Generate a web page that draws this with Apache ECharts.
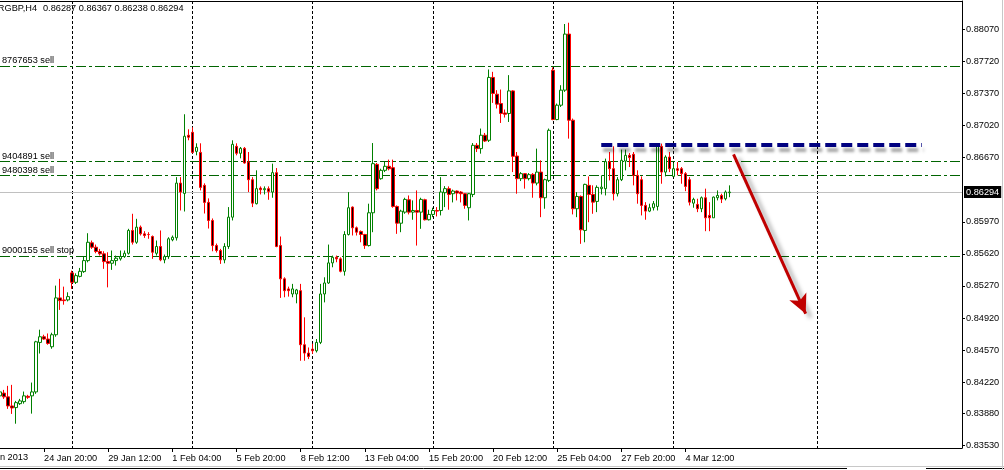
<!DOCTYPE html>
<html><head><meta charset="utf-8">
<script src="https://cdn.jsdelivr.net/npm/echarts@6/dist/echarts.min.js"></script>
<style>html,body{margin:0;padding:0;background:#fff;}#c{width:1004px;height:470px;}</style>
</head><body><div id="c"></div>
<script>
// ---- data (EURGBP, H4) ----
const firstBarUTC = Date.UTC(2013, 0, 23, 0, 0); // 23 Jan 2013 00:00
const histBars = 183;     // bars with prices
const totalBars = 241;    // incl. empty future slots (chart shift)
const open = [.84070,.84100,.84059,.83960,.83942,.83985,.84007,.84065,.84070,.84113,.84653,.84715,.84690,.84606,.84737,.85139,.85117,.85117,.85412,.85309,.85374,.85426,.85546,.85740,.85692,.85645,.85620,.85535,.85517,.85546,.85565,.85590,.85626,.85875,.85746,.85911,.85838,.85831,.85809,.85626,.85700,.85554,.85590,.85773,.85795,.86392,.86279,.86914,.86946,.86738,.86727,.86367,.86181,.85984,.85710,.85656,.85554,.85700,.86020,.86793,.86717,.86771,.86622,.86429,.86167,.86337,.86320,.86331,.86294,.86506,.85710,.85347,.85237,.85182,.85182,.85218,.84628,.84537,.84580,.84562,.84653,.85182,.85302,.85521,.85582,.85565,.85429,.85831,.86130,.85904,.85864,.85831,.85710,.86068,.86596,.86440,.86531,.86575,.86560,.86137,.85954,.86075,.86210,.86075,.86093,.86075,.86210,.85992,.86050,.86093,.86093,.86287,.86331,.86276,.86305,.86294,.86276,.86123,.86268,.86804,.86768,.86914,.86859,.87545,.87362,.87260,.87157,.87151,.87398,.86687,.86440,.86495,.86440,.86487,.86392,.86512,.86232,.86421,.87624,.87085,.87242,.87406,.88018,.87078,.86112,.86246,.85875,.86367,.86268,.86192,.86331,.86331,.86626,.86549,.86276,.86429,.86632,.86695,.86706,.86476,.86429,.86148,.86086,.86123,.86137,.86793,.86512,.86676,.86465,.86549,.86549,.86495,.86429,.86173,.86159,.86112,.86232,.86039,.86013,.86232,.86257,.86221,.86287];
const high = [.84135,.84135,.84179,.84190,.84015,.84037,.84117,.84081,.84215,.84671,.84792,.84737,.84751,.84759,.85273,.85347,.85262,.85200,.85437,.85407,.85466,.85590,.85845,.85765,.85721,.85674,.85648,.85637,.85656,.85601,.85656,.85656,.85893,.86057,.86002,.85929,.85867,.85856,.85820,.85765,.85875,.85612,.85801,.85820,.86457,.86457,.87143,.86979,.87001,.86826,.86826,.86389,.86225,.86006,.85732,.85674,.85736,.86130,.86859,.86826,.86786,.86786,.86731,.86457,.86531,.86356,.86356,.86356,.86604,.86556,.85809,.85364,.85262,.85292,.85237,.85292,.84927,.84598,.84639,.84690,.85292,.85364,.85721,.85601,.85601,.85582,.85867,.86293,.86137,.85918,.85875,.85838,.86167,.86829,.86611,.86549,.86622,.86648,.86648,.86148,.86101,.86232,.86257,.86203,.86312,.86232,.86221,.86101,.86123,.86130,.86457,.86359,.86356,.86320,.86312,.86305,.86283,.86283,.86829,.86829,.86987,.86939,.87632,.87606,.87406,.87413,.87195,.87570,.87406,.86731,.86512,.86501,.86501,.86501,.86768,.86640,.86440,.86987,.87654,.87260,.87460,.88128,.88142,.87096,.86293,.86257,.86385,.86465,.86367,.86367,.86476,.86659,.86731,.86793,.86457,.86757,.86757,.86720,.86731,.86531,.86465,.86184,.86167,.86196,.86823,.86823,.86695,.86731,.86611,.86622,.86567,.86512,.86457,.86232,.86221,.86246,.86331,.86184,.86246,.86312,.86276,.86312,.86367];
const low = [.84048,.84037,.83928,.83873,.83766,.83971,.83985,.84037,.83876,.84092,.84532,.84682,.84628,.84584,.84715,.85008,.85065,.85101,.85237,.85291,.85363,.85412,.85527,.85674,.85626,.85601,.85456,.85254,.85445,.85492,.85546,.85576,.85612,.85721,.85729,.85820,.85794,.85784,.85565,.85601,.85539,.85517,.85565,.85757,.85765,.86093,.86082,.86859,.86717,.86695,.86312,.86060,.85896,.85648,.85634,.85510,.85517,.85674,.85984,.86695,.86662,.86604,.86294,.86130,.86159,.86268,.86268,.86210,.86232,.85692,.85139,.85146,.85153,.85146,.85080,.84453,.84453,.84471,.84529,.84543,.84635,.85090,.85292,.85473,.85528,.85418,.85382,.85820,.85820,.85820,.85746,.85674,.85700,.85856,.86312,.86429,.86512,.86531,.86123,.85838,.85856,.86057,.86050,.85992,.85710,.85893,.85984,.85984,.86020,.86028,.86039,.86130,.86101,.86181,.86203,.86181,.86112,.85984,.86239,.86731,.86713,.86840,.86840,.87267,.87206,.87048,.87107,.87059,.86512,.86276,.86414,.86331,.86421,.86232,.86367,.86020,.86112,.86403,.87078,.87078,.87223,.87387,.86877,.86050,.86020,.85729,.85746,.85965,.86057,.86075,.86268,.86257,.86421,.86203,.86246,.86414,.86531,.86567,.86367,.86167,.86039,.85992,.86075,.86093,.86093,.86385,.86465,.86512,.86457,.86476,.86385,.86304,.86148,.86123,.86075,.86075,.85867,.85867,.86013,.86203,.86174,.86203,.86238];
const close = [.84113,.84059,.83960,.83938,.83996,.84015,.84070,.84054,.84113,.84660,.84715,.84690,.84642,.84737,.85139,.85109,.85109,.85153,.85309,.85382,.85429,.85546,.85746,.85692,.85645,.85620,.85535,.85517,.85546,.85572,.85590,.85626,.85875,.85746,.85911,.85838,.85820,.85830,.85637,.85700,.85554,.85590,.85784,.85801,.86392,.86294,.86903,.86892,.86727,.86782,.86345,.86181,.85984,.85710,.85656,.85554,.85700,.86020,.86815,.86717,.86771,.86611,.86429,.86173,.86331,.86320,.86331,.86301,.86506,.85700,.85347,.85218,.85218,.85237,.85226,.84628,.84537,.84500,.84562,.84653,.85182,.85302,.85521,.85582,.85565,.85429,.85831,.86123,.85904,.85856,.85831,.85710,.86068,.86604,.86331,.86531,.86575,.86549,.86137,.85954,.86086,.86214,.86075,.86093,.86075,.86214,.85992,.86050,.86093,.86086,.86294,.86331,.86268,.86305,.86283,.86276,.86148,.86276,.86804,.86768,.86914,.86851,.87545,.87370,.87253,.87151,.87143,.87398,.86684,.86440,.86495,.86440,.86484,.86392,.86512,.86232,.86429,.86968,.87085,.87242,.87406,.88018,.87078,.86112,.86246,.85882,.86378,.86268,.86184,.86345,.86348,.86626,.86549,.86276,.86429,.86640,.86695,.86670,.86476,.86276,.86148,.86086,.86123,.86167,.86793,.86512,.86676,.86549,.86549,.86531,.86495,.86356,.86184,.86214,.86112,.86232,.86013,.86013,.86239,.86257,.86217,.86294,.86294];
const yTickValues = [0.83530,0.83880,0.84220,0.84570,0.84920,0.85270,0.85620,0.85970,0.86670,0.87020,0.87370,0.87720,0.88070];
const orderPrices = [0.87666, 0.86625, 0.86472, 0.85596];
const orderTexts = ['8767653 sell', '9404891 sell', '9480398 sell', '9000155 sell stop'];
const bidPrice = 0.86294;
const titleSymbol = 'EURGBP,H4';
const titleOHLC = '0.86287 0.86367 0.86238 0.86294';
const firstDateLabel = '23 Jan 2013';
const resistanceLine = { fromBar: 150, toBar: 230, price: 0.86807 };
const arrowLine = { fromBar: 183, fromPrice: 0.86706, toBar: 201, toPrice: 0.84967 };

// ---- categories (H4 bars; weekends skipped in history, continuous in the future) ----
const H4 = 4 * 3600e3;
const times = [];
let t = firstBarUTC;
for (let i = 0; i < totalBars; i++) {
  times.push(t);
  t += H4;
  if (i < histBars - 1) { while ([0, 6].includes(new Date(t).getUTCDay())) t += H4; }
}
const MON = ['Jan','Feb','Mar','Apr','May','Jun','Jul','Aug','Sep','Oct','Nov','Dec'];
const pad = n => (n < 10 ? '0' : '') + n;
const cats = times.map(ms => { const d = new Date(ms); return d.getUTCDate() + ' ' + MON[d.getUTCMonth()] + ' ' + pad(d.getUTCHours()) + ':' + pad(d.getUTCMinutes()); });
const weekStart = times.map((ms, i) => i > 0 && new Date(ms).getUTCDay() < new Date(times[i - 1]).getUTCDay());
const showLabel = i => i >= 11 && i < histBars && (i - 11) % 16 === 0;

const candles = [];
for (let i = 0; i < totalBars; i++) {
  candles.push(i < histBars ? [open[i], close[i], low[i], high[i]] : '-');
}
const emptyLine = cats.map(() => '-');

const FONT = 'Liberation Sans';
const FS = 9.2;
const GREEN = '#008000', RED = '#ff0000', ORDER = '#006400';

const chart = echarts.init(document.getElementById('c'), null, { renderer: 'canvas' });
const orderMarks = orderPrices.map((p, k) => ({
  yAxis: p,
  lineStyle: { color: ORDER, width: 1, type: [10, 3, 3, 3] },
  label: { show: true, position: 'insideStartTop', formatter: orderTexts[k], color: '#000', fontFamily: FONT, fontSize: FS, distance: [2, 1] }
}));

chart.setOption({
  animation: false,
  backgroundColor: '#ffffff',
  grid: { left: 0, top: 1, width: 962, bottom: 22, containLabel: false },
  xAxis: [{
    type: 'category', data: cats, boundaryGap: false,
    axisLine: { show: true, lineStyle: { color: '#000', width: 1 } },
    axisTick: { show: true, length: 4, interval: (i) => showLabel(i), lineStyle: { color: '#000' } },
    axisLabel: { show: true, interval: (i) => showLabel(i), align: 'left', margin: 6, color: '#000', fontFamily: FONT, fontSize: FS, hideOverlap: false },
    splitLine: { show: true, interval: (i) => weekStart[i], lineStyle: { color: '#000', width: 1, type: [3, 2] } }
  }, {
    type: 'category', data: cats, boundaryGap: false, position: 'top',
    axisLine: { show: true, lineStyle: { color: '#000', width: 1 } },
    axisTick: { show: false }, axisLabel: { show: false }, splitLine: { show: false }
  }],
  yAxis: {
    type: 'value', position: 'right', min: 0.83501, max: 0.88379, scale: true,
    axisLine: { show: true, lineStyle: { color: '#000', width: 1 } },
    axisTick: { show: true, length: 3, customValues: yTickValues, lineStyle: { color: '#000' } },
    axisLabel: { show: true, customValues: yTickValues, formatter: v => v.toFixed(5), margin: 4, color: '#000', fontFamily: FONT, fontSize: FS },
    splitLine: { show: false }
  },
  series: [{
    type: 'line', xAxisIndex: 0, yAxisIndex: 0, data: emptyLine, showSymbol: false, silent: true, z: 1,
    lineStyle: { opacity: 0 },
    markLine: {
      silent: true, symbol: 'none', animation: false, precision: 5, z: 1,
      data: [
        ...orderMarks,
        { yAxis: bidPrice, lineStyle: { color: '#c0c0c0', width: 1, type: 'solid' },
          label: { show: true, position: 'end', formatter: bidPrice.toFixed(5), color: '#fff', backgroundColor: '#000', padding: [2, 2, 1, 2], fontFamily: FONT, fontSize: FS, distance: 2 } }
      ]
    }
  }, {
    type: 'candlestick', xAxisIndex: 0, yAxisIndex: 0, z: 3,
    data: candles, barWidth: 3,
    itemStyle: { color: '#ffffff', color0: '#000000', borderColor: GREEN, borderColor0: RED, borderColorDoji: '#000000', borderWidth: 1 }
  }, {
    type: 'line', xAxisIndex: 0, yAxisIndex: 0, data: emptyLine, showSymbol: false, silent: true, z: 5,
    lineStyle: { opacity: 0 },
    markLine: {
      silent: true, symbol: 'none', animation: false, precision: 5,
      data: [
        [ { coord: [resistanceLine.fromBar, resistanceLine.price], symbol: 'none' },
          { coord: [resistanceLine.toBar, resistanceLine.price], symbol: 'none',
            lineStyle: { color: '#000080', width: 4, type: [11, 5], cap: 'butt', shadowColor: 'rgba(0,0,0,0.35)', shadowBlur: 3, shadowOffsetX: 2, shadowOffsetY: 5 },
            label: { show: false } } ],
        [ { coord: [arrowLine.fromBar, arrowLine.fromPrice], symbol: 'none' },
          { coord: [arrowLine.toBar, arrowLine.toPrice], symbol: 'arrow', symbolSize: [14, 19],
            itemStyle: { color: '#c00000' },
            lineStyle: { color: '#c00000', width: 3, type: 'solid', shadowColor: 'rgba(0,0,0,0.35)', shadowBlur: 4, shadowOffsetX: 5, shadowOffsetY: 4 },
            label: { show: false } } ]
      ]
    },
    markPoint: {
      silent: true, animation: false,
      data: [{ coord: [arrowLine.fromBar, 0.88388], symbol: 'diamond', symbolSize: [9, 10], itemStyle: { color: '#b4b4b4' }, label: { show: false } }]
    }
  }],
  graphic: [
    { type: 'text', x: 37, y: 8, style: { text: titleSymbol, fill: '#000', font: FS + 'px "Liberation Sans"', textAlign: 'right', textVerticalAlign: 'middle' } },
    { type: 'text', x: 43, y: 8, style: { text: titleOHLC, fill: '#000', font: FS + 'px "Liberation Sans"', textAlign: 'left', textVerticalAlign: 'middle' } },
    { type: 'text', x: 28, y: 457, style: { text: firstDateLabel, fill: '#000', font: FS + 'px "Liberation Sans"', textAlign: 'right', textVerticalAlign: 'middle' } },
    { type: 'line', shape: { x1: 0, y1: 466.5, x2: 1004, y2: 466.5 }, style: { stroke: '#c8c8c8', lineWidth: 1 } },
    { type: 'line', shape: { x1: 0, y1: 468.5, x2: 847, y2: 468.5 }, style: { stroke: '#000', lineWidth: 1 } },
    { type: 'line', shape: { x1: 926, y1: 468.5, x2: 1004, y2: 468.5 }, style: { stroke: '#000', lineWidth: 1 } },
    { type: 'line', shape: { x1: 1002.5, y1: 0, x2: 1002.5, y2: 470 }, style: { stroke: '#c8c8c8', lineWidth: 1 } }
  ]
});
</script></body></html>
